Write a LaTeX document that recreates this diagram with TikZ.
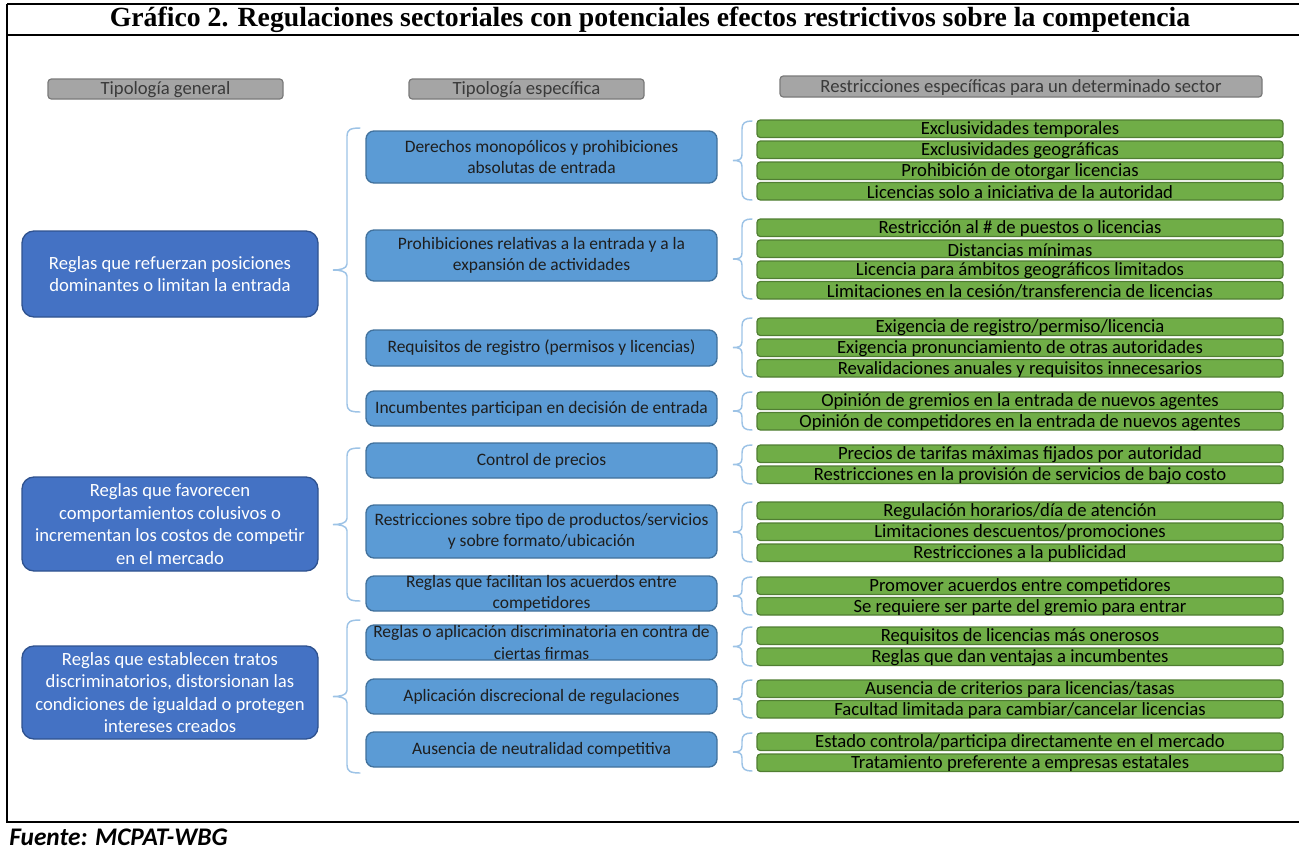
\documentclass[tikz,border=0pt]{standalone}
\usepackage{fontspec}
\setmainfont{Carlito}
\newfontfamily\titlefont{Liberation Serif}

\definecolor{genfill}{HTML}{4472C4}
\definecolor{genline}{HTML}{2F528F}
\definecolor{spcfill}{HTML}{5B9BD5}
\definecolor{spcline}{HTML}{41719C}
\definecolor{resfill}{HTML}{70AD47}
\definecolor{resline}{HTML}{507E32}
\definecolor{headfill}{HTML}{A5A5A5}
\definecolor{headline}{HTML}{7A7A7A}
\definecolor{headtext}{HTML}{3A3A3A}
\definecolor{bracecol}{HTML}{9DC3E6}
\definecolor{spctext}{HTML}{1E1E1E}

% box drawn to exact size, label centred on it (label may overflow the box)
% #1 style, #2 name, #3 x1, #4 y1, #5 x2, #6 y2, #7 label style, #8 label
\newcommand\cajon[8]{%
  \node[#1, minimum width={(#5-#3)*0.75pt}, minimum height={(#6-#4)*0.75pt}]
    (#2) at ({(#3+#5)/2},{(#4+#6)/2}) {};
  \node[#7] (#2-t) at (#2.center) {#8};}

% one green restriction bar: #1 name, #2 top edge, #3 label
\newcommand\restr[3]{\cajon{resbox}{#1}{757}{#2}{1283}{#2+17.5}{restext}{#3}}

% left curly brace: #1 end of hooks, #2 spine, #3 tip, #4 top, #5 bottom
\newcommand\llave[5]{%
  \draw[brace] (#1,#4) .. controls ({#2+3},#4) and (#2,{#4+2}) .. (#2,{#4+8})
    -- (#2,{(#4+#5)/2-6})
    .. controls (#2,{(#4+#5)/2-1}) and ({#3+6},{(#4+#5)/2}) .. (#3,{(#4+#5)/2})
    .. controls ({#3+6},{(#4+#5)/2}) and (#2,{(#4+#5)/2+1}) .. (#2,{(#4+#5)/2+6})
    -- (#2,{#5-8}) .. controls (#2,{#5-2}) and ({#2+3},#5) .. (#1,#5);}

\begin{document}
\begin{tikzpicture}[x=0.75pt,y=-0.75pt,
  boxbase/.style={inner sep=0pt, outer sep=0pt},
  genbox/.style={boxbase, draw=genline, fill=genfill, line width=1pt, rounded corners=9pt},
  spcbox/.style={boxbase, draw=spcline, fill=spcfill, line width=1pt, rounded corners=6pt},
  resbox/.style={boxbase, draw=resline, fill=resfill, line width=0.9pt, rounded corners=2.5pt},
  headbox/.style={boxbase, draw=headline, fill=headfill, line width=0.9pt, rounded corners=2.5pt},
  gentext/.style={inner sep=0pt, align=center, text=white, font=\fontsize{14}{16.9}\selectfont},
  spctext/.style={inner sep=0pt, align=center, text=spctext, font=\fontsize{13.1}{15.8}\selectfont},
  restext/.style={inner sep=0pt, yshift=-0.8pt, text=black, font=\fontsize{14}{16.8}\selectfont},
  headtext/.style={inner sep=0pt, yshift=-0.8pt, text=headtext, font=\fontsize{14}{16.8}\selectfont},
  brace/.style={draw=bracecol, line width=1.1pt, line cap=round},
  frame/.style={line width=1.6pt, black}]

\useasboundingbox (0,0) rectangle (1299,850);

% frame and title
\draw[frame] (7,4.3) -- (1299,4.3);
\draw[frame] (7,35) -- (1299,35);
\draw[frame] (7,822) -- (1299,822);
\draw[frame] (7,3.5) -- (7,822.8);
\node[font=\titlefont\bfseries\fontsize{20.8}{24}\selectfont, inner sep=0pt] (titulo) at (650,19.5)
  {Gráfico 2. Regulaciones sectoriales con potenciales efectos restrictivos sobre la competencia};

% column headers
\cajon{headbox}{h1}{48}{79}{283}{99}{headtext}{Tipología general}
\cajon{headbox}{h2}{409}{79}{644}{99}{headtext}{Tipología específica}
\cajon{headbox}{h3}{780}{76}{1262}{97}{headtext}{Restricciones específicas para un determinado sector}

% general typology
\cajon{genbox}{g1}{22}{231}{318}{317}{gentext}{Reglas que refuerzan posiciones\\dominantes o limitan la entrada}
\cajon{genbox}{g2}{22}{477}{318}{571}{gentext}{Reglas que favorecen\\comportamientos colusivos o\\incrementan los costos de competir\\en el mercado}
\cajon{genbox}{g3}{22}{646}{318}{739}{gentext}{Reglas que establecen tratos\\discriminatorios, distorsionan las\\condiciones de igualdad o protegen\\intereses creados}

% specific typology
\cajon{spcbox}{s1}{366}{131}{717}{183}{spctext}{Derechos monopólicos y prohibiciones\\absolutas de entrada}
\cajon{spcbox}{s2}{366}{230}{717}{281}{spctext}{Prohibiciones relativas a la entrada y a la\\expansión de actividades}
\cajon{spcbox}{s3}{366}{330}{717}{366}{spctext}{Requisitos de registro (permisos y licencias)}
\cajon{spcbox}{s4}{366}{391}{717}{426}{spctext}{Incumbentes participan en decisión de entrada}
\cajon{spcbox}{s5}{366}{443}{717}{478}{spctext}{Control de precios}
\cajon{spcbox}{s6}{366}{505}{717}{558}{spctext}{Restricciones sobre tipo de productos/servicios\\y sobre formato/ubicación}
\cajon{spcbox}{s7}{366}{576}{717}{611}{spctext}{Reglas que facilitan los acuerdos entre\\competidores}
\cajon{spcbox}{s8}{366}{625}{717}{660}{spctext}{Reglas o aplicación discriminatoria en contra de\\ciertas firmas}
\cajon{spcbox}{s9}{366}{679}{717}{714}{spctext}{Aplicación discrecional de regulaciones}
\cajon{spcbox}{s10}{366}{732}{717}{767}{spctext}{Ausencia de neutralidad competitiva}

% sector restrictions
\restr{r1a}{120}{Exclusividades temporales}
\restr{r1b}{141}{Exclusividades geográficas}
\restr{r1c}{162}{Prohibición de otorgar licencias}
\restr{r1d}{182.5}{Licencias solo a iniciativa de la autoridad}
\restr{r2a}{219}{Restricción al \# de puestos o licencias}
\restr{r2b}{240}{Distancias mínimas}
\restr{r2c}{261}{Licencia para ámbitos geográficos limitados}
\restr{r2d}{281.5}{Limitaciones en la cesión/transferencia de licencias}
\restr{r3a}{318}{Exigencia de registro/permiso/licencia}
\restr{r3b}{339}{Exigencia pronunciamiento de otras autoridades}
\restr{r3c}{359.5}{Revalidaciones anuales y requisitos innecesarios}
\restr{r4a}{392}{Opinión de gremios en la entrada de nuevos agentes}
\restr{r4b}{412.5}{Opinión de competidores en la entrada de nuevos agentes}
\restr{r5a}{445}{Precios de tarifas máximas fijados por autoridad}
\restr{r5b}{466}{Restricciones en la provisión de servicios de bajo costo}
\restr{r6a}{502}{Regulación horarios/día de atención}
\restr{r6b}{523}{Limitaciones descuentos/promociones}
\restr{r6c}{544}{Restricciones a la publicidad}
\restr{r7a}{577}{Promover acuerdos entre competidores}
\restr{r7b}{597.5}{Se requiere  ser parte del gremio para entrar}
\restr{r8a}{627}{Requisitos de licencias más onerosos}
\restr{r8b}{648}{Reglas que dan ventajas a incumbentes}
\restr{r9a}{680}{Ausencia de criterios para licencias/tasas}
\restr{r9b}{700.5}{Facultad limitada para cambiar/cancelar licencias}
\restr{r10a}{733}{Estado controla/participa directamente en el mercado}
\restr{r10b}{754}{Tratamiento preferente  a empresas estatales}

% braces grouping the specific typologies
\llave{360}{347}{333}{128}{412}
\llave{360}{347}{333}{448}{601}
\llave{360}{347}{333}{620}{773}

% braces grouping the sector restrictions
\llave{752}{742}{733}{121}{200}
\llave{752}{742}{733}{219}{299}
\llave{752}{742}{733}{318}{377}
\llave{752}{742}{733}{392}{430}
\llave{752}{742}{733}{445}{484}
\llave{752}{742}{733}{502}{562}
\llave{752}{742}{733}{577}{615}
\llave{752}{742}{733}{627}{666}
\llave{752}{742}{733}{680}{718}
\llave{752}{742}{733}{733}{771}

% source
\node[anchor=base west, inner sep=0pt, font=\bfseries\itshape\fontsize{19}{22}\selectfont] (fuente) at (9,845)
  {Fuente: MCPAT-WBG};
\end{tikzpicture}
\end{document}
